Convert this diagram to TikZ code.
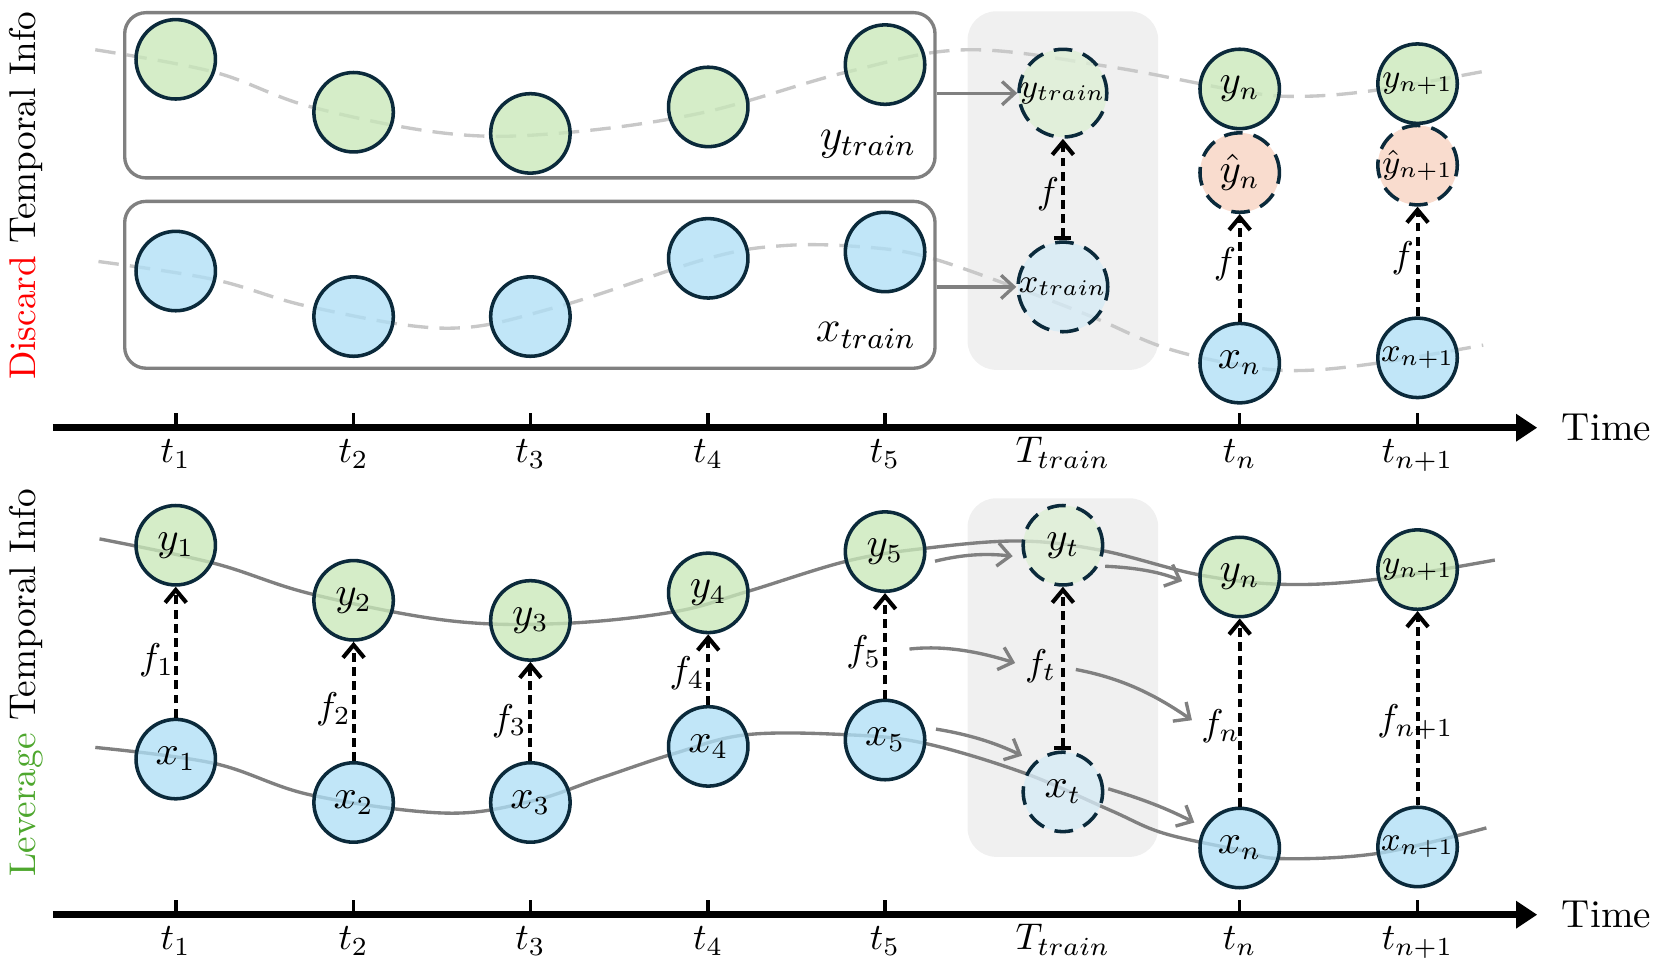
\documentclass[tikz,border=0pt]{standalone}
\usetikzlibrary{positioning,arrows.meta,shapes.geometric}
\definecolor{ygreen}{HTML}{C9E8B9}
\definecolor{xblue}{HTML}{AFDFF6}
\definecolor{ypink}{HTML}{F9DCCE}
\definecolor{ylight}{HTML}{DDEFD5}
\definecolor{xlight}{HTML}{D6EBF6}
\definecolor{nodeline}{HTML}{0B2A3B}
\definecolor{boxgray}{HTML}{808080}
\definecolor{curvegray}{HTML}{C8C8C8}
\definecolor{bggray}{HTML}{F0F0F0}
\definecolor{discardred}{HTML}{FF0000}
\definecolor{levgreen}{HTML}{4EA72E}
\tikzset{
	var/.style={circle, draw=nodeline, line width=0.95pt, minimum size=0.75cm, inner sep=0pt,
		fill opacity=0.78, text opacity=1, font=\fontsize{10.5}{12}\selectfont},
	ynode/.style={var, fill=ygreen},
	xnode/.style={var, fill=xblue},
	hatnode/.style={var, fill=ypink, fill opacity=1, dash pattern=on 5pt off 3pt},
	ytrain/.style={var, fill=ylight, dash pattern=on 5pt off 3pt},
	xtrain/.style={var, fill=xlight, dash pattern=on 5pt off 3pt},
	tightlabel/.style={font=\fontsize{9}{10}\selectfont},
	flabel/.style={inner sep=0pt},
	map/.style={black, line width=1.1pt, dash pattern=on 2.4pt off 1.4pt,
		-{Straight Barb[length=1.2mm,width=2mm]}},
	mapbar/.style={map, {Bar[width=1.6mm]}-{Straight Barb[length=1.2mm,width=2mm]}},
	flow/.style={boxgray, line width=0.9pt, -{Straight Barb[length=1.2mm,width=2.2mm]}},
	oldtrend/.style={curvegray, line width=0.9pt, dash pattern=on 5.5pt off 3pt},
	trend/.style={boxgray, line width=0.9pt},
	trainbox/.style={draw=boxgray, line width=0.9pt, rounded corners=0.2cm, minimum width=7.65cm},
	bgbox/.style={fill=bggray, rounded corners=0.27cm, minimum width=1.8cm, minimum height=3.385cm},
	axis/.style={line width=2pt, -{Triangle[length=2mm,width=2.5mm]}},
	tick/.style={line width=0.95pt}
}
\begin{document}
\begin{tikzpicture}[x=0.01cm, y=-0.01cm]
	\useasboundingbox (0,0) rectangle (1568,917);
	%side titles
	\node[rotate=90] (discard) at (25,185) {\textcolor{discardred}{Discard} Temporal Info};
	\node[rotate=90] (leverage) at (25,645) {\textcolor{levgreen}{Leverage} Temporal Info};
	%training windows
	\node[bgbox] (dbg) at (1004,180) {};
	\node[bgbox] (lbg) at (1004,640) {};
	%time axes
	\foreach \ay in {404,864}{
		\draw[axis] (50,\ay) -- (1452,\ay);
		\foreach \tx in {166,334,501,669,836,1171,1339}
			\draw[tick] (\tx,\ay) -- (\tx,\ay-14);
	}
	\node[anchor=west, font=\fontsize{10.5}{12}\selectfont] (dtime) at (1463,404) {Time};
	\node[anchor=west, font=\fontsize{10.5}{12}\selectfont] (ltime) at (1463,864) {Time};
	\foreach \tx/\tl [count=\k] in {166/t_1, 334/t_2, 501/t_3, 669/t_4, 836/t_5, 1004/T_{train}, 1171/t_n, 1339/t_{n+1}}{
		\node[anchor=base] (dt\k) at (\tx,437) {$\tl$};
		\node[anchor=base] (lt\k) at (\tx,897) {$\tl$};
	}
	%discarded trends
	\draw[oldtrend] plot[smooth, tension=0.6] coordinates {(90,47) (202,68) (294,101) (422,126) (526,126)
		(661,107) (800,68) (913,47) (1048,63) (1171,86) (1228,91) (1301,85) (1409,66)};
	\draw[oldtrend] plot[smooth, tension=0.6] coordinates {(93,247) (202,264) (294,290) (422,310) (526,290)
		(669,244) (740,232) (812,233) (873,242) (958,271) (1031,299) (1099,328) (1171,345) (1228,350) (1301,343) (1401,326)};
	%kept trends
	\draw[trend] plot[smooth, tension=0.6] coordinates {(94,509) (202,532) (294,561) (422,586) (529,589)
		(636,578) (705,559) (800,530) (873,518) (963,511) (1041,520) (1133,543) (1214,552) (1302,547) (1412,529)};
	\draw[trend] plot[smooth, tension=0.6] coordinates {(90,706) (202,721) (294,751) (420,768) (501,757)
		(567,735) (636,712) (705,694) (800,694) (873,702) (967,730) (1048,765) (1099,787) (1171,803) (1210,811) (1302,806) (1404,782)};
	%training sets
	\node[trainbox, minimum height=1.56cm] (ybox) at (500.5,90) {};
	\node[trainbox, minimum height=1.575cm] (xbox) at (500.5,269) {};
	\node[font=\fontsize{11.5}{13}\selectfont] (ylab) at (820,136) {$y_{train}$};
	\node[font=\fontsize{11.5}{13}\selectfont] (xlab) at (818,317) {$x_{train}$};
	\foreach \i/\px/\py/\qy in {1/166/56/256, 2/334/106/299, 3/501/126/299, 4/669/101/244, 5/836/61/238}{
		\node[ynode] (dy\i) at (\px,\py) {};
		\node[xnode] (dx\i) at (\px,\qy) {};
	}
	\node[ytrain, tightlabel] (dytr) at (1004,88) {$y_{train}$};
	\node[xtrain, tightlabel] (dxtr) at (1004,271) {$x_{train}$};
	\node[ynode] (dyn) at (1171,84) {$y_n$};
	\node[hatnode] (dhn) at (1171,163) {$\hat{y}_n$};
	\node[xnode] (dxn) at (1171,343) {$x_n$};
	\node[ynode, tightlabel] (dyn1) at (1339,79) {$y_{n+1}$};
	\node[hatnode, tightlabel] (dhn1) at (1339,156) {$\hat{y}_{n+1}$};
	\node[xnode, tightlabel] (dxn1) at (1339,338) {$x_{n+1}$};
	\draw[flow] (ybox.east |- dytr) -- (dytr);
	\draw[flow] (xbox.east |- dxtr) -- (dxtr);
	\draw[mapbar] (dxtr) -- (dytr);
	\draw[map] (dxn) -- (dhn);
	\draw[map] (dxn1) -- (dhn1);
	\node[flabel] (df) at (990,183) {$f$};
	\node[flabel] (dfn) at (1157,250) {$f$};
	\node[flabel] (dfn1) at (1325,244) {$f$};
	%per-step models
	\foreach \i/\px/\py/\qy/\fx/\fy in {1/166/515/717/148/624, 2/334/567/758/315/670, 3/501/586/758/481/681, 4/669/560/705/649/636, 5/836/521/699/816/616}{
		\node[ynode] (ly\i) at (\px,\py) {$y_\i$};
		\node[xnode] (lx\i) at (\px,\qy) {$x_\i$};
		\draw[map] (lx\i) -- (ly\i);
		\node[flabel] (lf\i) at (\fx,\fy) {$f_\i$};
	}
	\node[ytrain] (lyt) at (1004,515) {$y_t$};
	\node[xtrain] (lxt) at (1004,748) {$x_t$};
	\node[ynode] (lyn) at (1171,545) {$y_n$};
	\node[xnode] (lxn) at (1171,801) {$x_n$};
	\node[ynode, tightlabel] (lyn1) at (1339,538) {$y_{n+1}$};
	\node[xnode, tightlabel] (lxn1) at (1339,800) {$x_{n+1}$};
	\draw[mapbar] (lxt) -- (lyt);
	\draw[map] (lxn) -- (lyn);
	\draw[map] (lxn1) -- (lyn1);
	\node[flabel] (lft) at (983,629) {$f_t$};
	\node[flabel] (lfn) at (1153,686) {$f_n$};
	\node[flabel] (lfn1) at (1337,682) {$f_{n+1}$};
	%carrying over
	\draw[flow, shorten <=0.1cm, shorten >=0.1cm] (ly5.-17) to[bend left=10] (lyt.197);
	\draw[flow, shorten <=0.06cm, shorten >=0.18cm] (lyt.-30) to[bend left=10] (lyn.196);
	\draw[flow, shorten <=0.26cm, shorten >=0.09cm] (lf5.east) to[bend left=12] (lft.west);
	\draw[flow, shorten <=0.18cm, shorten >=0.1cm] (lft.east) to[bend left=12] (lfn.west);
	\draw[flow, shorten <=0.11cm, shorten >=0.13cm] (lx5.18) to[bend left=8] (lxt.133);
	\draw[flow, shorten <=0.04cm, shorten >=0.1cm] (lxt.6) to[bend left=5] (lxn.150);
\end{tikzpicture}
\end{document}
